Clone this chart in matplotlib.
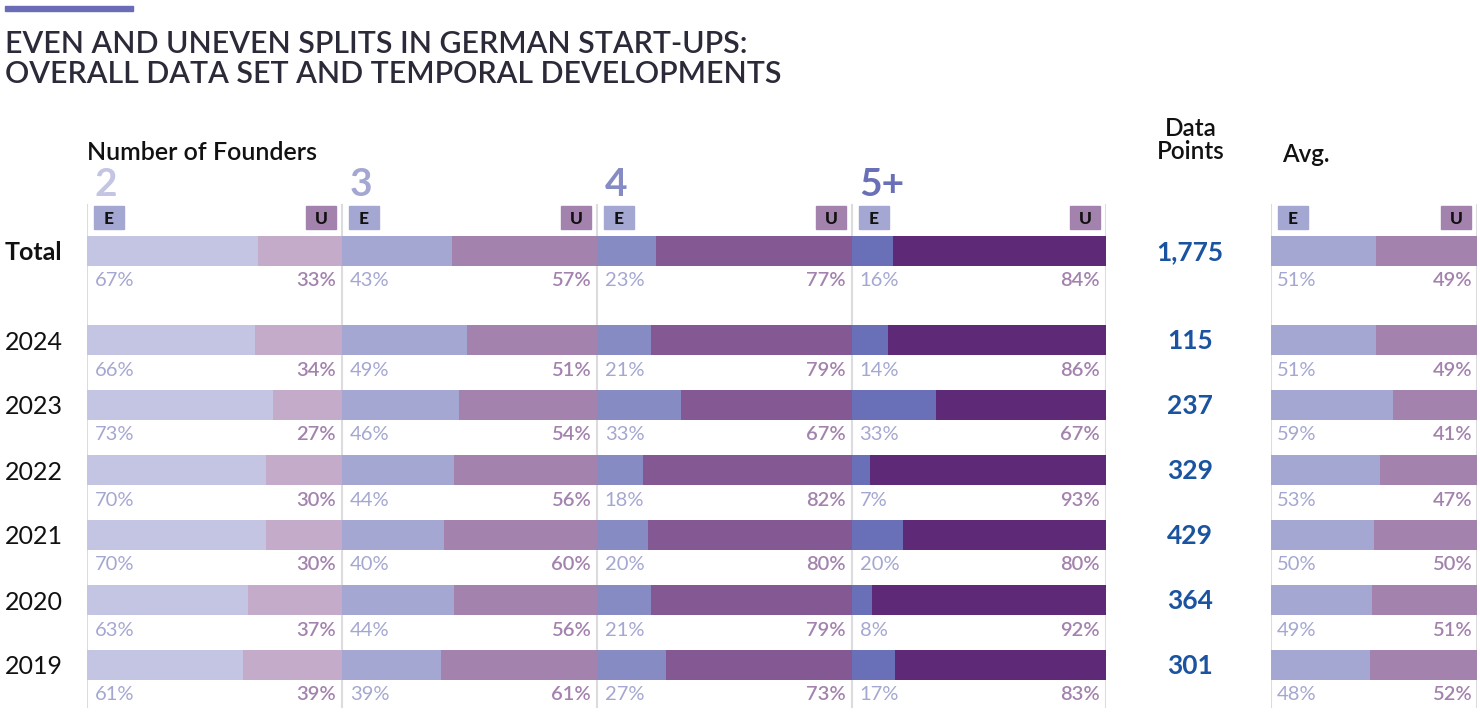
import matplotlib
matplotlib.use("Agg")
from matplotlib import pyplot as plt
from matplotlib.patches import Rectangle

plt.rcParams['font.family'] = ['Lato', 'DejaVu Sans']

# data
rows = ["Total", "2024", "2023", "2022", "2021", "2020", "2019"]
groups = ["2", "3", "4", "5+"]
even_2 = [67, 66, 73, 70, 70, 63, 61]
uneven_2 = [33, 34, 27, 30, 30, 37, 39]
even_3 = [43, 49, 46, 44, 40, 44, 39]
uneven_3 = [57, 51, 54, 56, 60, 56, 61]
even_4 = [23, 21, 33, 18, 20, 21, 27]
uneven_4 = [77, 79, 67, 82, 80, 79, 73]
even_5 = [16, 14, 33, 7, 20, 8, 17]
uneven_5 = [84, 86, 67, 93, 80, 92, 83]
even_avg = [51, 51, 59, 53, 50, 49, 48]
uneven_avg = [49, 49, 41, 47, 50, 51, 52]
data_points = [1775, 115, 237, 329, 429, 364, 301]

even_cols = ["#c3c5e2", "#a4a7d1", "#868bc4", "#6a70b7"]
uneven_cols = ["#c3abc9", "#a383ae", "#835893", "#5e2a78"]
lbl_e = "#a4a7d1"
lbl_u = "#a383ae"
line_col = "#dcdcde"
blue = "#1a53a0"

W, H = 1480, 720
fig = plt.figure(figsize=(W / 100, H / 100), dpi=100)

bg = fig.add_axes([0, 0, 1, 1])
bg.set_xlim(0, W)
bg.set_ylim(H, 0)
bg.axis("off")

# row centres (pixel space)
yc = [251 + (24 if i > 0 else 0) + 65 * i for i in range(len(rows))]
bar_h = 30

# title
bg.add_patch(Rectangle((5, 6), 128, 5, color="#6a6db5"))
bg.text(5, 44, "EVEN AND UNEVEN SPLITS IN GERMAN START-UPS:", fontsize=21.8, fontweight="semibold",
        color="#2b2a38", va="center")
bg.text(5, 74, "OVERALL DATA SET AND TEMPORAL DEVELOPMENTS", fontsize=21.8, fontweight="semibold",
        color="#2b2a38", va="center")
bg.text(87, 152, "Number of Founders", fontsize=18, fontweight="semibold", color="#111111", va="center")
bg.text(1191, 140, "Data\nPoints", fontsize=17.5, fontweight="semibold", color="#111111",
        va="center", ha="center", linespacing=1.0)
bg.text(1282, 154, "Avg.", fontsize=17.5, fontweight="semibold", color="#111111", va="center")

for i, r in enumerate(rows):
    bg.text(5, yc[i] + 2, r, fontsize=18, fontweight="bold" if r == "Total" else "normal",
            color="#111111", va="center")
    bg.text(1190, yc[i] + 1, f"{data_points[i]:,}", fontsize=19, fontweight="bold", color=blue,
            va="center", ha="center")


def badge(x, letter, fc):
    bg.add_patch(Rectangle((x, 206), 30, 23, color=fc, zorder=3))
    bg.text(x + 15, 218.5, letter, fontsize=12.5, fontweight="black", color="#111111",
            ha="center", va="center", zorder=4)


def panel(x0, x1, ev, un, ecol, ucol, head=None, head_col=None):
    ax = fig.add_axes([x0 / W, 0, (x1 - x0) / W, 1])
    ax.set_xlim(0, 100)
    ax.set_ylim(H, 0)
    ax.axis("off")
    ax.axvline(0, ymin=1 - 707 / H, ymax=1 - 205 / H, color=line_col, lw=1.5, zorder=0)
    ax.axvline(100, ymin=1 - 707 / H, ymax=1 - 205 / H, color=line_col, lw=1.5, zorder=0)
    ax.barh(yc, ev, height=bar_h, color=ecol, zorder=2)
    ax.barh(yc, un, left=ev, height=bar_h, color=ucol, zorder=2)
    for i in range(len(rows)):
        ax.text(3, yc[i] + 30, f"{ev[i]}%", fontsize=14.5, color=lbl_e, va="center", ha="left")
        ax.text(97.6, yc[i] + 30, f"{un[i]}%", fontsize=14.5, color=lbl_u, va="center",
                ha="right", fontweight="semibold")
    badge(x0 + 7, "E", "#a4a7d1")
    badge(x1 - 36, "U", "#a383ae")
    if head:
        ax.text(3, 185, head, fontsize=28, fontweight="bold", color=head_col, va="center", ha="left")
    return ax


edges = [87, 342, 597, 852, 1106]
evs = [even_2, even_3, even_4, even_5]
uns = [uneven_2, uneven_3, uneven_4, uneven_5]
for k in range(4):
    panel(edges[k], edges[k + 1], evs[k], uns[k], even_cols[k], uneven_cols[k],
          head=groups[k], head_col=even_cols[k])

panel(1271, 1477, even_avg, uneven_avg, "#a4a7d1", "#a383ae")

fig.savefig("out.png", dpi=100, facecolor="white")
